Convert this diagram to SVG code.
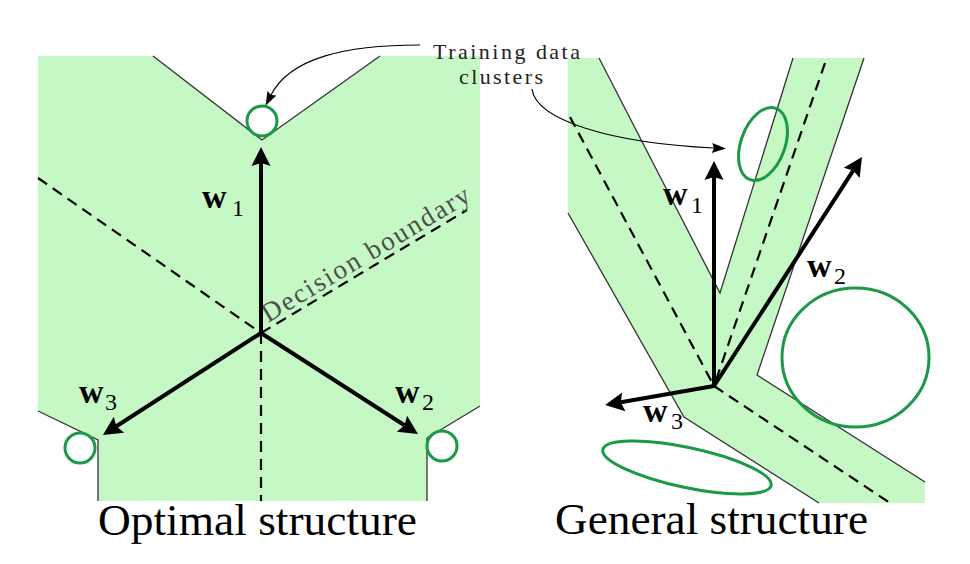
<svg xmlns="http://www.w3.org/2000/svg" width="970" height="564" viewBox="0 0 970 564">
<style>
.region{fill:#c5f8c5;stroke:none}
.edge{fill:none;stroke:#333;stroke-width:1.3;stroke-linejoin:miter}
.dash{fill:none;stroke:#000;stroke-width:2.2;stroke-dasharray:11 7}
.cluster{fill:none;stroke:#1a9a46;stroke-width:3}
.vec{fill:none;stroke:#000;stroke-width:4;marker-end:url(#bigArrow)}
.note{fill:none;stroke:#000;stroke-width:1.2;marker-end:url(#smallArrow)}
.wl{font-family:"Liberation Serif","Times New Roman",serif;font-weight:bold;font-size:34px;fill:#000}
.sub{font-family:"Liberation Serif","Times New Roman",serif;font-size:24px;fill:#000}
.ann{font-family:"Liberation Serif","Times New Roman",serif;font-size:22px;fill:#222}
.title{font-family:"Liberation Serif","Times New Roman",serif;font-size:45px;fill:#000}
</style>
<defs>
<marker id="bigArrow" markerUnits="userSpaceOnUse" markerWidth="20" markerHeight="20" refX="0" refY="0" orient="auto" overflow="visible">
<path d="M-3,-9.5 L16,0 L-3,9.5 L0,0 Z" fill="#000"/>
</marker>
<marker id="smallArrow" markerUnits="userSpaceOnUse" markerWidth="14" markerHeight="10" refX="0" refY="0" orient="auto" overflow="visible">
<path d="M-2,-5 L12,0 L-2,5 L0,0 Z" fill="#000"/>
</marker>
</defs>

<g id="panel-optimal">
<polygon class="region" points="38,56 153,56 262,140 380,56 480,56 480,406 427,438 427,501 98,501 98,440 38,411"/>
<polyline class="edge" points="153,56 262,140 380,56"/>
<polyline class="edge" points="480,406 427,438 427,501"/>
<polyline class="edge" points="38,411 98,440 98,501"/>
<line class="dash" x1="38" y1="178" x2="261" y2="333"/>
<line class="dash" x1="261" y1="333" x2="467" y2="210"/>
<line class="dash" x1="261" y1="333" x2="261" y2="501"/>
<text x="268" y="323" transform="rotate(-31 268 323)" font-family="Liberation Serif, Times New Roman, serif" font-size="27" fill="#4d4d4d" textLength="238" lengthAdjust="spacing">Decision boundary</text>
</g>

<g id="panel-general">
<polygon class="region" points="568,58 599,58 720,293 793,58 864,58 757,375 925,482 925,503 819,503 684,417 568,213"/>
<polyline class="edge" points="599,58 720,293 793,58"/>
<polyline class="edge" points="864,58 757,375 925,482"/>
<polyline class="edge" points="819,503 684,417 568,213"/>
<line class="dash" x1="570" y1="117" x2="714" y2="386"/>
<line class="dash" x1="825" y1="63" x2="714" y2="386"/>
<line class="dash" x1="714" y1="386" x2="890" y2="503"/>
</g>

<g id="cluster-top-left"><circle class="cluster" cx="262" cy="121" r="15"/></g>
<g id="cluster-left-bottom"><circle class="cluster" cx="80" cy="448" r="15"/></g>
<g id="cluster-right-bottom"><circle class="cluster" cx="442" cy="446" r="15"/></g>
<g id="cluster-small"><ellipse class="cluster" cx="763" cy="144" rx="22" ry="38" transform="rotate(20 763 144)"/></g>
<g id="cluster-big"><ellipse class="cluster" cx="855.5" cy="357.5" rx="73.5" ry="69.5"/></g>
<g id="cluster-flat"><ellipse class="cluster" cx="687" cy="467.5" rx="86" ry="20" transform="rotate(12 687 467.5)"/></g>

<g id="connectors">
<line class="vec" x1="261" y1="333" x2="261" y2="163"/>
<line class="vec" x1="261" y1="333" x2="404.5" y2="425.3"/>
<line class="vec" x1="261" y1="333" x2="116.4" y2="426.3"/>
<line class="vec" x1="714" y1="386" x2="714" y2="177"/>
<line class="vec" x1="714" y1="386" x2="853.3" y2="170.4"/>
<line class="vec" x1="714" y1="386" x2="620.8" y2="402.3"/>
<path class="note" d="M420,45 C345,45 290,58 271,95"/>
<path class="note" d="M532,89 C536,120 610,143 714,148"/>
</g>

<g id="labels">
<text class="wl" x="202" y="208">w</text><text class="sub" x="232" y="216">1</text>
<text class="wl" x="395" y="403">w</text><text class="sub" x="422" y="410">2</text>
<text class="wl" x="79" y="403">w</text><text class="sub" x="105" y="410">3</text>
<text class="wl" x="663" y="205">w</text><text class="sub" x="691" y="213">1</text>
<text class="wl" x="807" y="277">w</text><text class="sub" x="834" y="284">2</text>
<text class="wl" x="643" y="422">w</text><text class="sub" x="671" y="429">3</text>
</g>

<g id="annotation">
<text class="ann" x="433" y="59" textLength="147" lengthAdjust="spacing">Training data</text>
<text class="ann" x="459" y="84" textLength="84" lengthAdjust="spacing">clusters</text>
</g>

<g id="titles">
<text class="title" x="98" y="535" textLength="319" lengthAdjust="spacingAndGlyphs">Optimal structure</text>
<text class="title" x="555" y="534" textLength="313" lengthAdjust="spacingAndGlyphs">General structure</text>
</g>
</svg>
